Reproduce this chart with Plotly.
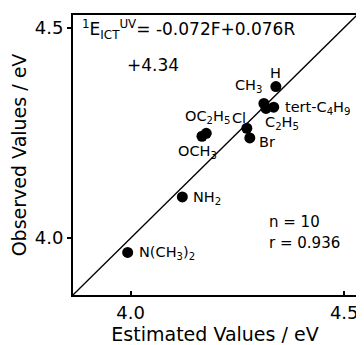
import plotly.graph_objects as go

# ---- data ----
substituents = ["N(CH<sub>3</sub>)<sub>2</sub>", "NH<sub>2</sub>", "OCH<sub>3</sub>", "OC<sub>2</sub>H<sub>5</sub>",
                "Cl", "Br", "CH<sub>3</sub>", "C<sub>2</sub>H<sub>5</sub>", "tert-C<sub>4</sub>H<sub>9</sub>", "H"]
estimated = [3.993, 4.121, 4.167, 4.177, 4.272, 4.279, 4.312, 4.317, 4.335, 4.340]
observed = [3.966, 4.098, 4.242, 4.249, 4.261, 4.238, 4.320, 4.308, 4.311, 4.360]
tick_vals = [4.0, 4.5]
tick_text = ["4.0", "4.5"]
axis_range = [3.865, 4.53]
equation_line1 = "<sup>1</sup>E<sub>ICT</sub><sup>UV</sup>= -0.072F+0.076R"
equation_line2 = "+4.34"
stats = ["n = 10", "r = 0.936"]

# ---- label placement (pixel offsets from point) ----
label_style = {
    "N(CH<sub>3</sub>)<sub>2</sub>": dict(xshift=9, yshift=-1, xanchor="left"),
    "NH<sub>2</sub>": dict(xshift=9, yshift=-1, xanchor="left"),
    "OCH<sub>3</sub>": dict(xshift=-4, yshift=-16, xanchor="center"),
    "OC<sub>2</sub>H<sub>5</sub>": dict(xshift=1, yshift=16, xanchor="center"),
    "Cl": dict(xshift=-8, yshift=10, xanchor="center"),
    "Br": dict(xshift=7, yshift=-4, xanchor="left"),
    "CH<sub>3</sub>": dict(xshift=-15, yshift=17, xanchor="center"),
    "C<sub>2</sub>H<sub>5</sub>": dict(xshift=-3, yshift=-15, xanchor="left"),
    "tert-C<sub>4</sub>H<sub>9</sub>": dict(xshift=9, yshift=-1, xanchor="left"),
    "H": dict(xshift=0, yshift=14, xanchor="center"),
}

FONT = "DejaVu Sans"

fig = go.Figure()
fig.add_trace(go.Scatter(x=axis_range, y=axis_range, mode="lines",
                         line=dict(color="black", width=1.3), hoverinfo="skip"))
fig.add_trace(go.Scatter(x=estimated, y=observed, mode="markers",
                         marker=dict(color="black", size=11)))

for name, xv, yv in zip(substituents, estimated, observed):
    st = label_style[name]
    fig.add_annotation(x=xv, y=yv, text=name, showarrow=False,
                       xanchor=st["xanchor"], yanchor="middle",
                       xshift=st["xshift"], yshift=st["yshift"],
                       font=dict(family=FONT, size=14.5, color="black"))

fig.add_annotation(xref="paper", yref="paper", x=0.024, y=0.950, text=equation_line1,
                   showarrow=False, xanchor="left", yanchor="middle",
                   font=dict(family=FONT, size=17, color="black"))
fig.add_annotation(xref="paper", yref="paper", x=0.182, y=0.823, text=equation_line2,
                   showarrow=False, xanchor="left", yanchor="middle",
                   font=dict(family=FONT, size=17, color="black"))
fig.add_annotation(xref="paper", yref="paper", x=0.682, y=0.259, text=stats[0],
                   showarrow=False, xanchor="left", yanchor="middle",
                   font=dict(family=FONT, size=15, color="black"))
fig.add_annotation(xref="paper", yref="paper", x=0.682, y=0.184, text=stats[1],
                   showarrow=False, xanchor="left", yanchor="middle",
                   font=dict(family=FONT, size=15, color="black"))

fig.update_xaxes(range=axis_range, tickvals=tick_vals, ticktext=tick_text,
                 ticks="inside", ticklen=4, tickwidth=1.5, tickcolor="black",
                 showline=True, linecolor="black", linewidth=2, mirror=True,
                 showgrid=False, zeroline=False,
                 tickfont=dict(family=FONT, size=18, color="black"),
                 title=dict(text="Estimated Values / eV", standoff=2,
                            font=dict(family=FONT, size=19, color="black")))
fig.update_yaxes(range=axis_range, tickvals=tick_vals, ticktext=tick_text,
                 ticks="outside", ticklen=4, tickwidth=1.5, tickcolor="black",
                 showline=True, linecolor="black", linewidth=2, mirror=True,
                 showgrid=False, zeroline=False,
                 tickfont=dict(family=FONT, size=18, color="black"),
                 title=dict(text="Observed Values / eV", standoff=4,
                            font=dict(family=FONT, size=19, color="black")))

# page body has an 8px margin; size the figure so the plot box lands where the reference has it
fig.update_layout(width=356, height=337, showlegend=False,
                  margin=dict(l=65, r=5, t=5, b=50),
                  paper_bgcolor="white", plot_bgcolor="white")

fig.write_html("out.html")
